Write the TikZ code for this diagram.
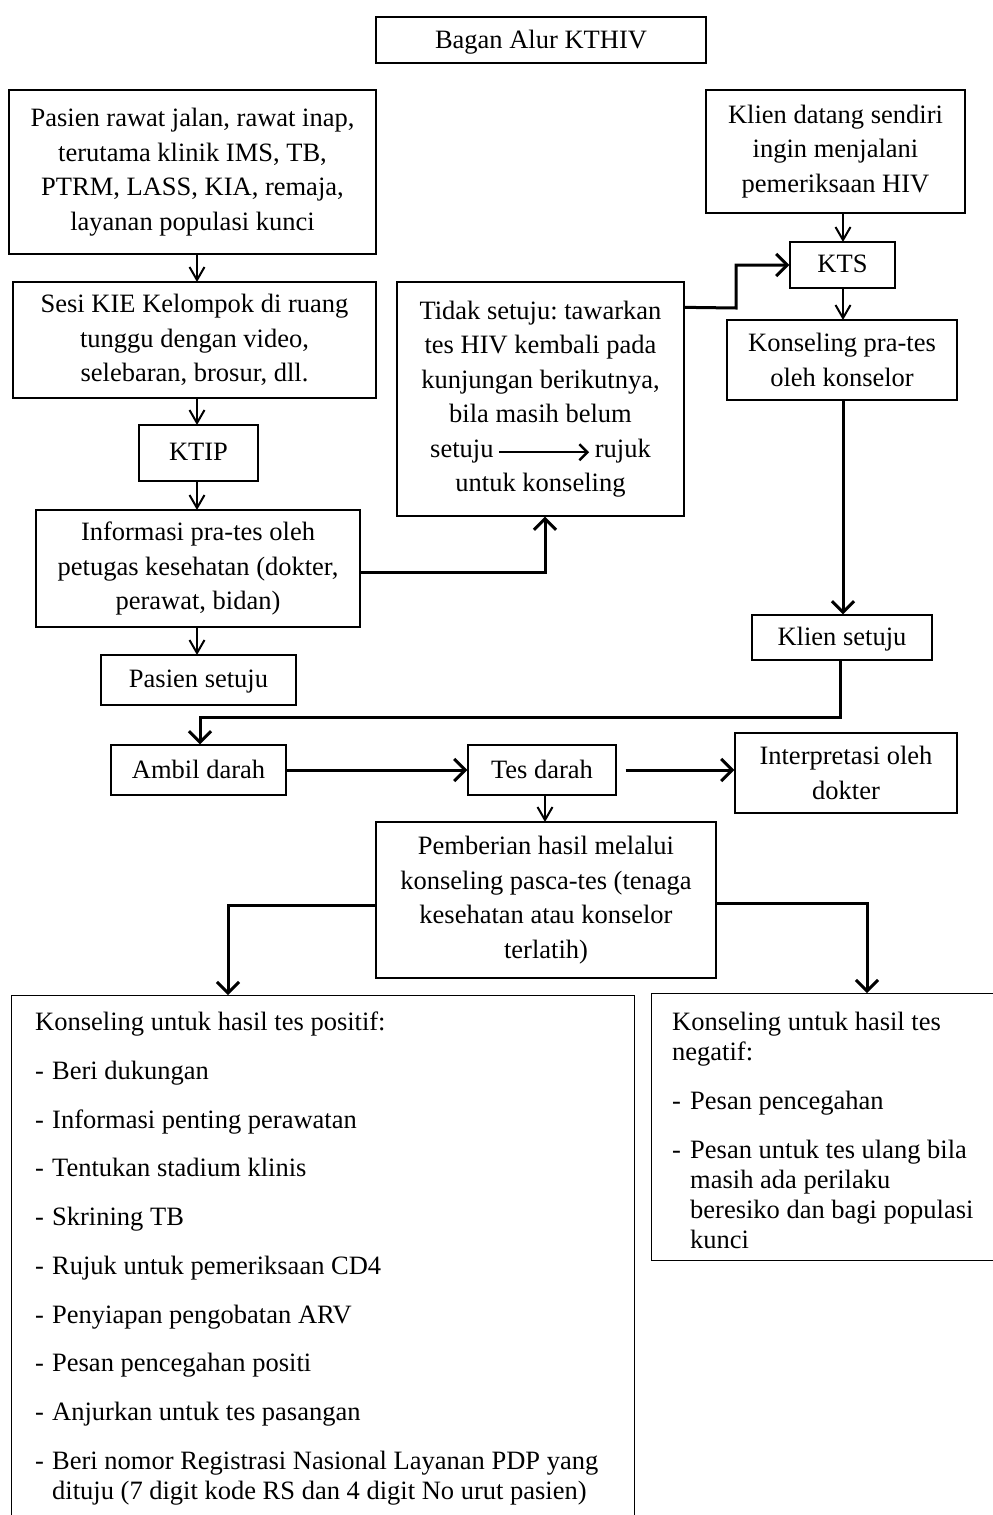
\documentclass[tikz,border=0pt]{standalone}
\usepackage{fontspec}
\setmainfont{Liberation Serif}
\usetikzlibrary{arrows.meta,calc}
\frenchspacing
\begin{document}
\begin{tikzpicture}[x=1pt,y=-1pt,
  box/.style={draw,line width=1.3pt,inner sep=0pt,align=center,font=\fontsize{26.5}{34.5}\selectfont},
  onebox/.style={box,text depth=2pt},
  listtext/.style={inner sep=0pt,align=left,anchor=north west,font=\fontsize{26.5}{30}\selectfont},
  thinarrow/.style={line width=2pt,-{Straight Barb[length=13pt,width=15pt]}},
  thickarrow/.style={line width=3pt,-{Straight Barb[length=11pt,width=22pt]}}]
\useasboundingbox (0,0) rectangle (993,1515);
\clip (0,0) rectangle (993,1515);

\node[onebox,minimum width=330pt,minimum height=46pt] (title) at (541,40) {Bagan Alur KTHIV};

\node[box,minimum width=367pt,minimum height=164pt] (b1) at (192.5,172)
  {Pasien rawat jalan, rawat inap,\\terutama klinik IMS, TB,\\PTRM, LASS, KIA, remaja,\\layanan populasi kunci};
\node[box,minimum width=363pt,minimum height=116pt] (b2) at (194.5,340)
  {Sesi KIE Kelompok di ruang\\tunggu dengan video,\\selebaran, brosur, dll.};
\node[onebox,minimum width=119pt,minimum height=56pt] (ktip) at (198.5,453) {KTIP};
\node[box,minimum width=324pt,minimum height=117pt] (info) at (198,568.5)
  {Informasi pra-tes oleh\\petugas kesehatan (dokter,\\perawat, bidan)};
\node[onebox,minimum width=195pt,minimum height=50pt] (pasien) at (198.5,680) {Pasien setuju};

\node[box,minimum width=287pt,minimum height=234pt] (tidak) at (540.5,399)
  {Tidak setuju: tawarkan\\tes HIV kembali pada\\kunjungan berikutnya,\\bila masih belum\\setuju\,\tikz[baseline=-0.4ex]\draw[line width=2.5pt,-{Straight Barb[length=8pt,width=16pt]}] (0,0) -- (90pt,0);\,rujuk\\untuk konseling};

\node[box,minimum width=259pt,minimum height=123pt] (klien) at (835.5,151.5)
  {Klien datang sendiri\\ingin menjalani\\pemeriksaan HIV};
\node[onebox,minimum width=105pt,minimum height=46pt] (kts) at (842.5,265) {KTS};
\node[box,minimum width=230pt,minimum height=80pt] (kpt) at (842,360)
  {Konseling pra-tes\\oleh konselor};
\node[onebox,minimum width=180pt,minimum height=45pt] (ksetuju) at (842,637.5) {Klien setuju};

\node[onebox,minimum width=175pt,minimum height=50pt] (ambil) at (198.5,770) {Ambil darah};
\node[onebox,minimum width=148pt,minimum height=50pt] (tes) at (542,770) {Tes darah};
\node[box,minimum width=222pt,minimum height=80pt] (interp) at (846,773)
  {Interpretasi oleh\\dokter};
\node[box,minimum width=340pt,minimum height=156pt] (pemb) at (546,900)
  {Pemberian hasil melalui\\konseling pasca-tes (tenaga\\kesehatan atau konselor\\terlatih)};

\node[draw,line width=1.3pt,inner sep=0pt,minimum width=623pt,minimum height=540pt,anchor=north west] (pos) at (11,995) {};
\node[listtext] (postext) at (35,1012)
  {Konseling untuk hasil tes positif:\\[18.7pt]
   \makebox[17pt][l]{-}Beri dukungan\\[18.7pt]
   \makebox[17pt][l]{-}Informasi penting perawatan\\[18.7pt]
   \makebox[17pt][l]{-}Tentukan stadium klinis\\[18.7pt]
   \makebox[17pt][l]{-}Skrining TB\\[18.7pt]
   \makebox[17pt][l]{-}Rujuk untuk pemeriksaan CD4\\[18.7pt]
   \makebox[17pt][l]{-}Penyiapan pengobatan ARV\\[18.7pt]
   \makebox[17pt][l]{-}Pesan pencegahan positi\\[18.7pt]
   \makebox[17pt][l]{-}Anjurkan untuk tes pasangan\\[18.7pt]
   \makebox[17pt][l]{-}Beri nomor Registrasi Nasional Layanan PDP yang\\
   \hspace*{17pt}dituju (7 digit kode RS dan 4 digit No urut pasien)};

\node[draw,line width=1.3pt,inner sep=0pt,minimum width=360pt,minimum height=267pt,anchor=north west] (neg) at (651,993) {};
\node[listtext] (negtext) at (672,1012)
  {Konseling untuk hasil tes\\
   negatif:\\[19pt]
   \makebox[18pt][l]{-}Pesan pencegahan\\[19pt]
   \makebox[18pt][l]{-}Pesan untuk tes ulang bila\\
   \hspace*{18pt}masih ada perilaku\\
   \hspace*{18pt}beresiko dan bagi populasi\\
   \hspace*{18pt}kunci};

% small arrows
\coordinate (a1s) at (197,254);  \coordinate (a1e) at (197,282);
\draw[thinarrow] (a1s) -- (a1e);
\coordinate (a2s) at (197,398);  \coordinate (a2e) at (197,425);
\draw[thinarrow] (a2s) -- (a2e);
\coordinate (a3s) at (197,481);  \coordinate (a3e) at (197,510);
\draw[thinarrow] (a3s) -- (a3e);
\coordinate (a4s) at (197,627);  \coordinate (a4e) at (197,655);
\draw[thinarrow] (a4s) -- (a4e);
\coordinate (a5s) at (843,213);  \coordinate (a5e) at (843,242);
\draw[thinarrow] (a5s) -- (a5e);
\coordinate (a6s) at (843,288);  \coordinate (a6e) at (843,320);
\draw[thinarrow] (a6s) -- (a6e);
\coordinate (a7s) at (545,795);  \coordinate (a7e) at (545,822);
\draw[thinarrow] (a7s) -- (a7e);

% thick connectors
\coordinate (infoout) at ($(info.east)+(0,3.5)$);
\coordinate (tidakin) at ($(tidak.south)+(4.5,0)$);
\draw[thickarrow] (infoout) -| (tidakin);

\coordinate (tidakout) at ($(tidak.north east)+(0,26)$);
\coordinate (ktsbend) at (736,308);
\draw[thickarrow] (tidakout) -- (ktsbend) |- (kts.west);

\coordinate (kptout) at ($(kpt.south)+(1,0)$);
\draw[thickarrow] (kptout) -- (kptout |- ksetuju.north);

\coordinate (ksout) at ($(ksetuju.south)+(-2,0)$);
\coordinate (ksbend) at (840,717);
\coordinate (ambilin) at ($(ambil.north)+(1.5,0)$);
\draw[thickarrow] (ksout) -- (ksbend) -| (ambilin);

\draw[thickarrow] (ambil.east) -- (tes.west);
\draw[thickarrow,shorten <=9pt] (tes.east) -- (tes.east -| interp.west);

\coordinate (pembl) at ($(pemb.west)+(0,5)$);
\coordinate (posin) at (228,995);
\draw[thickarrow] (pembl) -| (posin);
\coordinate (pembr) at ($(pemb.east)+(0,3)$);
\coordinate (negin) at (867,993);
\draw[thickarrow] (pembr) -| (negin);
\end{tikzpicture}
\end{document}
